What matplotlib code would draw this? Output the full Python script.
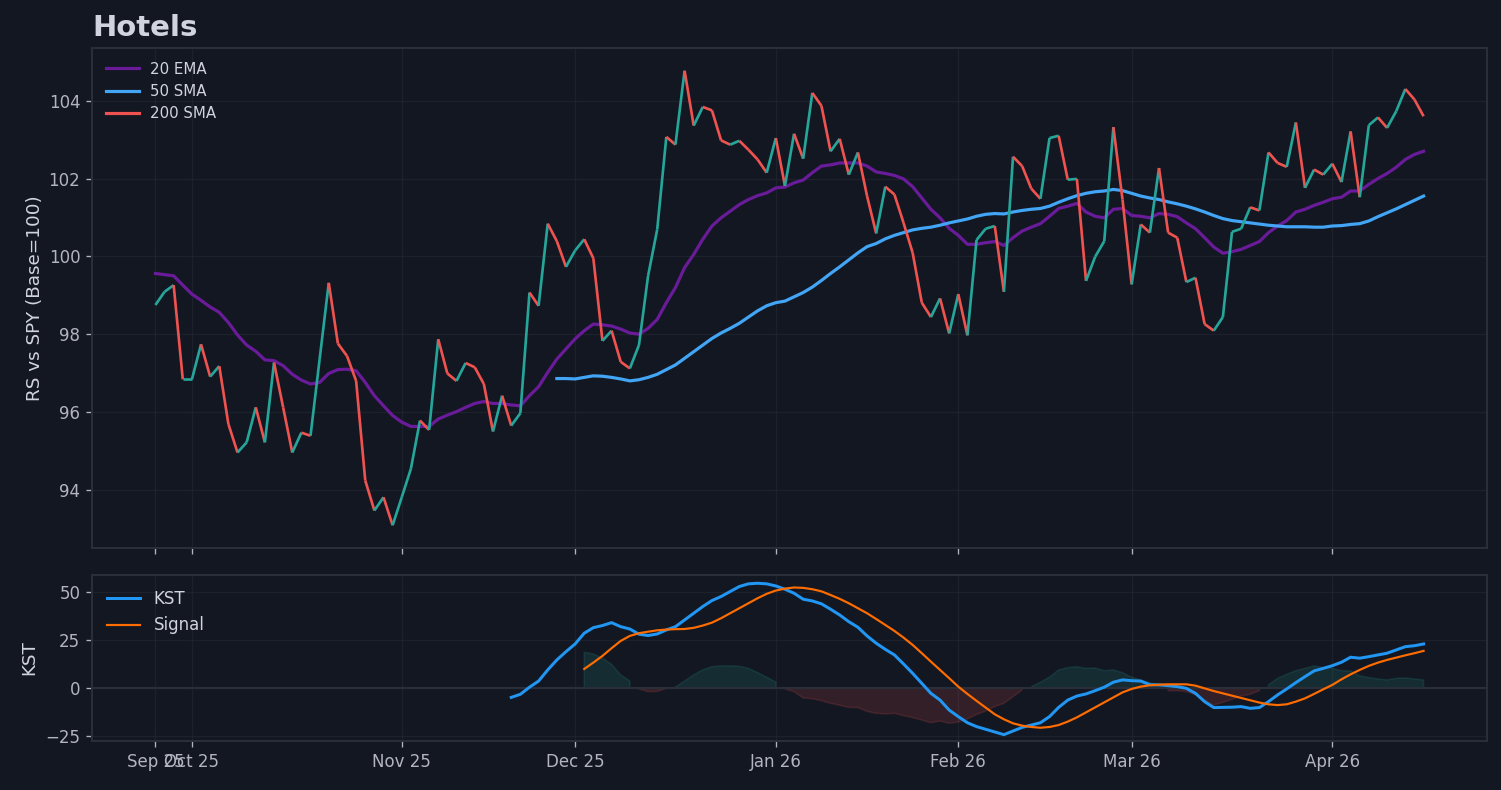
import numpy as np
import matplotlib.pyplot as plt
from matplotlib.collections import LineCollection

# relative strength vs SPY (base = 100), one value per trading day
rs = [98.75, 99.09, 99.26, 96.84, 96.84, 97.74, 96.91, 97.18, 95.69, 94.96,
      95.22, 96.12, 95.22, 97.27, 96.12, 94.96, 95.47, 95.39, 97.36, 99.32,
      97.76, 97.44, 96.80, 94.24, 93.47, 93.81, 93.09, 93.81, 94.54, 95.78,
      95.54, 97.87, 96.99, 96.80, 97.26, 97.15, 96.72, 95.50, 96.42, 95.65,
      95.97, 99.07, 98.73, 100.84, 100.39, 99.73, 100.15, 100.44, 99.95, 97.83,
      98.09, 97.29, 97.12, 97.72, 99.50, 100.69, 103.07, 102.87, 104.77, 103.36,
      103.84, 103.75, 102.98, 102.87, 102.97, 102.74, 102.49, 102.15, 103.04, 101.81,
      103.15, 102.51, 104.20, 103.87, 102.70, 103.02, 102.10, 102.67, 101.55, 100.59,
      101.79, 101.59, 100.86, 100.09, 98.81, 98.44, 98.92, 98.02, 99.03, 97.97,
      100.42, 100.71, 100.78, 99.09, 102.56, 102.32, 101.74, 101.48, 103.04, 103.10,
      101.97, 101.99, 99.37, 99.99, 100.39, 103.32, 101.46, 99.28, 100.82, 100.61,
      102.27, 100.61, 100.48, 99.34, 99.45, 98.26, 98.09, 98.44, 100.63, 100.71,
      101.26, 101.18, 102.67, 102.40, 102.30, 103.44, 101.76, 102.23, 102.10, 102.38,
      101.91, 103.21, 101.52, 103.37, 103.57, 103.30, 103.73, 104.30, 104.03, 103.60]

ema20 = [99.56, 99.53, 99.50, 99.26, 99.03, 98.87, 98.70, 98.56, 98.30, 97.98,
         97.72, 97.56, 97.34, 97.32, 97.19, 96.97, 96.82, 96.72, 96.76, 96.99,
         97.09, 97.10, 97.06, 96.76, 96.42, 96.16, 95.91, 95.74, 95.63, 95.63,
         95.63, 95.82, 95.92, 96.01, 96.12, 96.22, 96.27, 96.22, 96.22, 96.18,
         96.16, 96.42, 96.65, 97.02, 97.36, 97.62, 97.88, 98.09, 98.26, 98.24,
         98.21, 98.13, 98.03, 98.00, 98.15, 98.38, 98.81, 99.20, 99.71, 100.05,
         100.44, 100.78, 100.99, 101.16, 101.33, 101.46, 101.56, 101.63, 101.76, 101.78,
         101.89, 101.96, 102.15, 102.32, 102.35, 102.40, 102.40, 102.40, 102.32, 102.17,
         102.13, 102.08, 101.99, 101.79, 101.50, 101.21, 100.99, 100.72, 100.54, 100.31,
         100.31, 100.35, 100.38, 100.28, 100.48, 100.65, 100.75, 100.84, 101.03, 101.23,
         101.29, 101.36, 101.14, 101.03, 100.99, 101.21, 101.23, 101.05, 101.03, 100.99,
         101.10, 101.08, 101.02, 100.86, 100.71, 100.48, 100.24, 100.08, 100.12, 100.18,
         100.28, 100.38, 100.61, 100.78, 100.92, 101.14, 101.21, 101.31, 101.39, 101.48,
         101.52, 101.68, 101.68, 101.85, 102.00, 102.13, 102.29, 102.49, 102.62, 102.70]

# 50 SMA only exists from day 44 on, 200 SMA not yet available
sma50_start = 44
sma50 = [96.86, 96.86, 96.85, 96.89, 96.93, 96.92, 96.89, 96.85, 96.80, 96.83,
         96.89, 96.97, 97.09, 97.21, 97.38, 97.55, 97.72, 97.89, 98.03, 98.15,
         98.28, 98.44, 98.60, 98.73, 98.81, 98.85, 98.96, 99.07, 99.21, 99.38,
         99.56, 99.73, 99.91, 100.09, 100.25, 100.33, 100.45, 100.54, 100.61, 100.68,
         100.72, 100.75, 100.80, 100.86, 100.91, 100.96, 101.03, 101.08, 101.10, 101.09,
         101.14, 101.18, 101.21, 101.23, 101.29, 101.39, 101.48, 101.56, 101.62, 101.66,
         101.68, 101.72, 101.69, 101.62, 101.55, 101.50, 101.46, 101.40, 101.35, 101.29,
         101.22, 101.14, 101.05, 100.97, 100.92, 100.89, 100.86, 100.83, 100.80, 100.78,
         100.76, 100.76, 100.76, 100.75, 100.75, 100.78, 100.79, 100.82, 100.84, 100.91,
         101.02, 101.12, 101.22, 101.33, 101.44, 101.55]
sma200 = []

kst_start = 39
kst = [-4.9, -3.3, 0.4, 3.6, 9.4, 14.6, 18.9, 22.9, 28.5, 31.4,
       32.5, 34.0, 31.9, 30.7, 28.0, 27.3, 28.1, 30.2, 31.9, 35.4,
       38.9, 42.4, 45.5, 47.6, 50.2, 52.8, 54.2, 54.5, 54.2, 53.1,
       51.4, 49.3, 46.2, 45.3, 43.8, 41.0, 38.0, 34.5, 31.6, 27.1,
       23.3, 20.1, 17.2, 12.5, 7.6, 2.4, -2.8, -6.3, -11.5, -14.9,
       -18.1, -20.1, -21.5, -22.9, -24.3, -22.4, -20.5, -19.3, -18.1, -14.9,
       -10.1, -6.3, -4.2, -3.1, -1.4, 0.4, 3.0, 4.2, 3.8, 3.6,
       1.7, 1.6, 1.2, 0.7, -0.2, -2.8, -7.1, -10.2, -10.1, -10.0,
       -9.7, -10.6, -10.2, -7.1, -3.6, -0.5, 2.8, 5.9, 8.9, 10.2,
       11.6, 13.4, 16.0, 15.5, 16.3, 17.2, 18.1, 19.8, 21.5, 22.0,
       22.9]

signal_start = 47
signal = [9.9, 13.2, 16.7, 20.7, 24.5, 27.1, 28.5, 29.3, 30.0, 30.4,
          30.6, 30.7, 31.3, 32.5, 34.0, 36.3, 38.9, 41.5, 44.1, 46.7,
          49.0, 50.7, 51.7, 52.3, 52.1, 51.4, 50.3, 48.4, 46.4, 44.1,
          41.5, 38.9, 35.9, 32.8, 29.7, 26.2, 22.4, 18.1, 13.7, 9.4,
          5.1, 0.7, -3.1, -6.7, -10.2, -13.7, -16.3, -18.4, -19.6, -20.3,
          -20.7, -20.3, -19.3, -17.5, -15.3, -12.7, -10.1, -7.5, -4.9, -2.3,
          -0.5, 0.7, 1.4, 1.7, 1.9, 1.9, 1.9, 1.2, -0.2, -1.6,
          -2.8, -4.0, -5.2, -6.4, -7.6, -8.5, -8.9, -8.5, -7.1, -5.4,
          -3.1, -0.7, 1.6, 4.5, 7.1, 9.4, 11.5, 13.2, 14.6, 15.8,
          17.0, 18.1, 19.3]

hist = [18.6, 17.7, 15.5, 12.3, 6.8, 3.6, -0.5, -1.9, -1.8, -0.2,
        0.5, 3.6, 6.8, 9.4, 11.1, 11.5, 11.5, 11.3, 10.2, 8.0,
        5.6, 3.1, -0.5, -1.9, -5.2, -5.6, -6.6, -8.0, -9.0, -10.1,
        -10.2, -12.2, -13.2, -13.5, -13.2, -14.4, -15.4, -16.7, -18.1, -17.2,
        -18.4, -17.7, -16.1, -13.8, -12.0, -9.7, -8.0, -4.5, -1.0, 0.6,
        3.0, 5.6, 9.4, 10.6, 11.1, 10.2, 10.4, 9.0, 9.4, 8.0,
        5.6, 4.2, 2.8, 1.6, -1.4, -1.4, -1.9, -3.6, -6.3, -8.9,
        -7.5, -5.9, -4.2, -3.3, -1.4, 1.6, 5.0, 7.1, 9.0, 10.2,
        11.5, 10.6, 10.2, 9.0, 8.9, 6.3, 5.4, 4.7, 4.2, 5.0,
        5.2, 4.7, 4.2]

# first trading day of each month (index into the series)
tick_pos = [0, 4, 27, 46, 68, 88, 107, 129]
tick_labels = ['Sep 25', 'Oct 25', 'Nov 25', 'Dec 25', 'Jan 26', 'Feb 26', 'Mar 26', 'Apr 26']

bg = '#131722'
edge = '#2a2e39'
txt = '#d1d4dc'
tick_c = '#b2b5be'
up_c = '#26a69a'
down_c = '#ef5350'

x = np.arange(len(rs))
rs = np.array(rs)

fig = plt.figure(figsize=(1501 / 120, 790 / 120), dpi=120, facecolor=bg)
ax1 = fig.add_axes([92 / 1501, 1 - 548 / 790, 1395 / 1501, 500 / 790])
ax2 = fig.add_axes([92 / 1501, 1 - 741 / 790, 1395 / 1501, 166 / 790], sharex=ax1)

# price line coloured by direction of each step
pts = np.column_stack([x, rs]).reshape(-1, 1, 2)
segs = np.concatenate([pts[:-1], pts[1:]], axis=1)
seg_cols = [up_c if rs[i + 1] >= rs[i] else down_c for i in range(len(rs) - 1)]
ax1.add_collection(LineCollection(segs, colors=seg_cols, linewidths=1.6, zorder=3))

ax1.plot(x, ema20, color='#6a1b9a', lw=1.9, label='20 EMA', zorder=2)
ax1.plot(np.arange(sma50_start, sma50_start + len(sma50)), sma50,
         color='#42a5f5', lw=1.9, label='50 SMA', zorder=2)
ax1.plot(np.arange(len(sma200)), sma200, color='#ef5350', lw=1.9, label='200 SMA')
ax1.autoscale_view()

ax1.set_title('Hotels', loc='left', fontsize=17.5, fontweight='bold', color=txt, pad=7)
ax1.set_ylabel('RS vs SPY (Base=100)', fontsize=11, color=txt, labelpad=3)
ax1.legend(loc='upper left', fontsize=9, frameon=False, labelcolor=txt,
           handlelength=2.2)

# KST panel
kx = np.arange(kst_start, kst_start + len(kst))
sx = np.arange(signal_start, signal_start + len(signal))
h = np.array(hist)
ax2.fill_between(sx, 0, h, where=h >= 0, color=up_c, alpha=0.15, lw=1)
ax2.fill_between(sx, 0, h, where=h < 0, color=down_c, alpha=0.15, lw=1)
ax2.axhline(0, color=edge, lw=1.3, zorder=1)
ax2.plot(kx, kst, color='#2196f3', lw=1.8, label='KST', zorder=3)
ax2.plot(sx, signal, color='#ff6d00', lw=1.3, label='Signal', zorder=3)
ax2.set_ylim(-27.6, 58.8)
ax2.set_yticks([-25, 0, 25, 50])
ax2.set_ylabel('KST', fontsize=11, color=txt)
ax2.legend(loc='upper left', fontsize=10, frameon=False, labelcolor=txt)

ax2.set_xticks(tick_pos)
ax2.set_xticklabels(tick_labels)

for ax in (ax1, ax2):
    ax.set_facecolor(bg)
    for s in ax.spines.values():
        s.set_color(edge)
        s.set_linewidth(1.2)
    ax.tick_params(colors=tick_c, labelsize=10)
    ax.grid(True, color=edge, alpha=0.45, lw=0.8)
    ax.set_axisbelow(True)
ax1.tick_params(labelbottom=False)

fig.savefig('out.png', dpi=120, facecolor=bg)
